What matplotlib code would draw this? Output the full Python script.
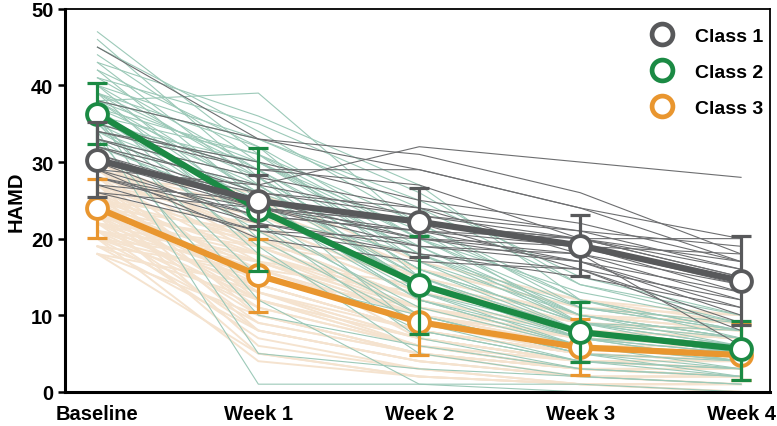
import matplotlib.pyplot as plt
from matplotlib.lines import Line2D

plt.rcParams['font.family'] = ['Liberation Sans', 'DejaVu Sans']
plt.rcParams['font.weight'] = 'bold'

# time points
labels = ['Baseline', 'Week 1', 'Week 2', 'Week 3', 'Week 4']
x = [0, 1, 2, 3, 4]

# class means and error bar ranges
mean1 = [30.3, 24.9, 22.2, 19.1, 14.5]
lo1 = [25.4, 21.6, 17.6, 15.1, 8.7]
hi1 = [35.2, 28.3, 26.6, 23.1, 20.3]

mean2 = [36.3, 23.8, 14.0, 7.8, 5.6]
lo2 = [32.3, 15.8, 7.5, 3.9, 1.6]
hi2 = [40.3, 31.8, 20.4, 11.7, 9.3]

mean3 = [24.0, 15.2, 9.1, 5.8, 4.8]
lo3 = [20.1, 10.4, 4.8, 2.2, 1.5]
hi3 = [27.8, 20.0, 13.4, 9.5, 8.8]

# individual trajectories
ind1 = [
    [45, 33, 31, 26, 18],
    [29, 27, 32, 30, 28],
    [38, 33, 29, 24, 20],
    [35, 29, 27, 20, 20],
    [34, 29, 29, 24, 17],
    [34, 30, 25, 22, 17],
    [33, 28, 24, 21, 16],
    [32, 27, 23, 20, 15],
    [31, 25, 22, 19, 13],
    [30, 26, 24, 18, 12],
    [30, 24, 20, 17, 10],
    [29, 23, 21, 19, 18],
    [28, 22, 19, 18, 6],
    [27, 25, 22, 16, 9],
    [26, 21, 20, 18, 14],
    [30, 22, 18, 15, 11],
    [31, 24, 22, 20, 16],
    [28, 23, 21, 17, 13],
    [29, 20, 17, 16, 12],
    [33, 26, 23, 21, 19],
    [27, 21, 18, 16, 8],
    [32, 25, 20, 19, 14],
    [36, 24, 22, 20, 15],
    [28, 24, 19, 17, 11],
    [26, 24, 21, 20, 17],
]

ind2 = [
    [47, 31, 20, 10, 6],
    [46, 28, 16, 8, 5],
    [45, 34, 22, 12, 8],
    [44, 30, 18, 9, 6],
    [43, 27, 14, 7, 4],
    [42, 32, 20, 11, 9],
    [42, 25, 12, 6, 3],
    [41, 29, 17, 10, 7],
    [40, 23, 10, 5, 2],
    [40, 33, 24, 14, 10],
    [39, 26, 15, 8, 6],
    [39, 20, 9, 4, 2],
    [38, 39, 21, 12, 8],
    [38, 30, 19, 9, 7],
    [38, 24, 13, 7, 5],
    [37, 28, 16, 9, 6],
    [37, 18, 8, 4, 3],
    [37, 31, 22, 11, 8],
    [36, 27, 14, 8, 5],
    [36, 22, 11, 6, 4],
    [36, 5, 3, 2, 1],
    [35, 29, 18, 10, 7],
    [35, 25, 12, 6, 5],
    [35, 15, 10, 5, 3],
    [34, 30, 20, 13, 9],
    [34, 26, 14, 7, 6],
    [34, 1, 1, 0, 0],
    [33, 28, 16, 9, 8],
    [33, 21, 10, 5, 4],
    [33, 10, 6, 3, 2],
    [32, 27, 15, 8, 6],
    [32, 24, 12, 7, 5],
    [38, 33, 25, 15, 10],
    [41, 35, 26, 14, 9],
    [39, 29, 13, 6, 4],
    [36, 31, 17, 8, 6],
    [37, 22, 7, 3, 2],
    [35, 19, 5, 2, 1],
    [40, 28, 13, 8, 5],
    [34, 23, 18, 11, 8],
    [43, 36, 27, 12, 7],
    [38, 26, 8, 4, 3],
    [35, 30, 21, 9, 5],
    [36, 12, 1, 1, 0],
    [39, 32, 15, 7, 4],
    [33, 26, 19, 10, 7],
]

ind3 = [
    [30, 22, 14, 10, 8],
    [30, 19, 12, 8, 7],
    [29, 24, 16, 11, 9],
    [29, 18, 10, 7, 6],
    [29, 14, 8, 5, 4],
    [28, 21, 13, 9, 8],
    [28, 17, 11, 6, 5],
    [28, 12, 7, 4, 3],
    [27, 23, 15, 10, 9],
    [27, 19, 11, 7, 6],
    [27, 15, 9, 6, 5],
    [27, 10, 5, 3, 2],
    [26, 20, 12, 8, 7],
    [26, 16, 10, 6, 5],
    [26, 13, 8, 5, 4],
    [26, 8, 4, 2, 2],
    [25, 22, 14, 9, 8],
    [25, 18, 11, 7, 6],
    [25, 15, 9, 5, 4],
    [25, 11, 6, 3, 3],
    [25, 6, 3, 1, 1],
    [24, 21, 13, 9, 7],
    [24, 17, 10, 7, 6],
    [24, 14, 8, 5, 4],
    [24, 12, 6, 4, 3],
    [24, 9, 5, 2, 2],
    [23, 20, 12, 8, 7],
    [23, 16, 10, 6, 6],
    [23, 13, 7, 4, 4],
    [23, 10, 5, 3, 2],
    [23, 5, 2, 1, 1],
    [22, 19, 11, 8, 6],
    [22, 15, 9, 6, 5],
    [22, 12, 7, 4, 3],
    [22, 8, 4, 2, 2],
    [21, 18, 12, 8, 7],
    [21, 14, 8, 5, 4],
    [21, 11, 6, 3, 3],
    [21, 7, 3, 1, 1],
    [20, 17, 10, 7, 6],
    [20, 13, 7, 4, 4],
    [20, 9, 5, 3, 2],
    [20, 4, 2, 1, 0],
    [19, 16, 9, 6, 5],
    [19, 12, 6, 4, 3],
    [19, 8, 4, 2, 1],
    [18, 14, 8, 5, 4],
    [18, 10, 5, 3, 2],
    [18, 5, 2, 1, 0],
    [26, 25, 16, 11, 10],
    [28, 26, 17, 12, 10],
    [30, 20, 15, 10, 9],
    [24, 19, 16, 12, 9],
    [22, 17, 14, 10, 8],
    [27, 13, 6, 3, 2],
    [25, 20, 9, 6, 5],
    [23, 18, 7, 4, 3],
    [21, 16, 13, 9, 8],
    [29, 21, 10, 6, 4],
    [20, 15, 11, 8, 7],
]

c1, c2, c3 = '#58595b', '#1b8a44', '#e9962f'
c1_thin, c2_thin, c3_thin = '#6d6e70', '#9cc9b8', '#f5e3cf'

fig = plt.figure(figsize=(7.77, 4.27), dpi=100)
ax = fig.add_axes([0.084, 0.080, 0.907, 0.897])

for row in ind3:
    ax.plot(x, row, color=c3_thin, lw=1.4, zorder=1)
for row in ind2:
    ax.plot(x, row, color=c2_thin, lw=0.8, zorder=2)
for row in ind1:
    ax.plot(x, row, color=c1_thin, lw=0.8, zorder=3)

z = 5
for m, lo, hi, c in [(mean3, lo3, hi3, c3), (mean2, lo2, hi2, c2), (mean1, lo1, hi1, c1)]:
    err = [[mi - l for mi, l in zip(m, lo)], [h - mi for mi, h in zip(m, hi)]]
    ax.errorbar(x, m, yerr=err, fmt='none', ecolor=c, elinewidth=2.3,
                capsize=7.5, capthick=2.3, zorder=z)
    ax.plot(x, m, color=c, lw=4.5, marker='o', markersize=15,
            markerfacecolor='white', markeredgecolor=c, markeredgewidth=2.8,
            zorder=z + 1)
    z += 2

ax.set_xlim(-0.2, 4.18)
ax.set_ylim(0, 50)
ax.set_xticks(x)
ax.set_xticklabels(labels, fontsize=14.5, fontweight='bold')
ax.set_yticks([0, 10, 20, 30, 40, 50])
ax.tick_params(axis='y', labelsize=14.5, width=1.8, length=5)
ax.tick_params(axis='x', length=0, pad=9)
for lab in ax.get_yticklabels():
    lab.set_fontweight('bold')
ax.set_ylabel('HAMD', fontsize=14.5, fontweight='bold', labelpad=4)

for s in ['left', 'bottom']:
    ax.spines[s].set_linewidth(2.2)
for s in ['top', 'right']:
    ax.spines[s].set_linewidth(1.3)

handles = [Line2D([], [], ls='none', marker='o', markersize=15,
                  markerfacecolor='white', markeredgecolor=c, markeredgewidth=3.4)
           for c in (c1, c2, c3)]
ax.legend(handles, ['Class 1', 'Class 2', 'Class 3'], loc='upper right',
          bbox_to_anchor=(1.016, 1.0),
          frameon=False, prop={'size': 14, 'weight': 'bold'},
          labelspacing=0.95, handletextpad=0.7, borderaxespad=0.55)

fig.savefig('out.png', dpi=100)
